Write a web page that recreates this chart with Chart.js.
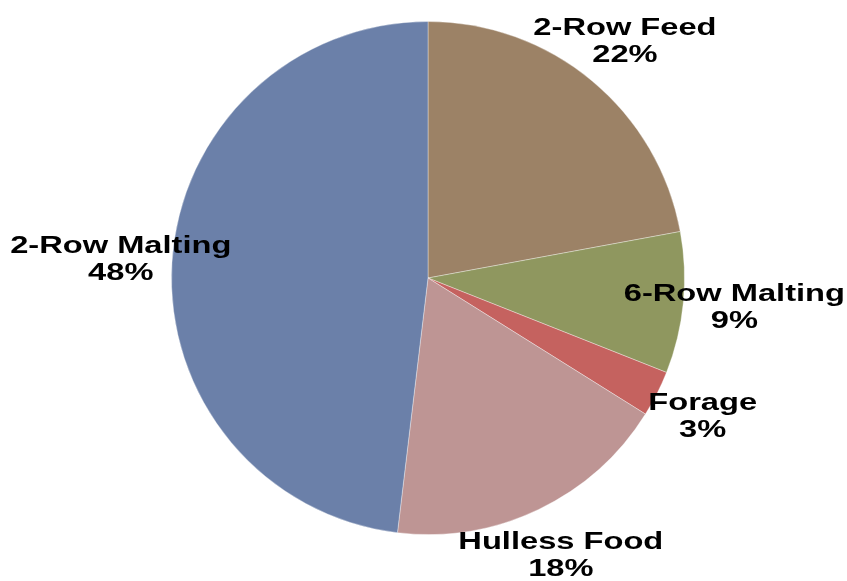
<!DOCTYPE html>
<html>
<head>
<meta charset="utf-8">
<script src="https://cdn.jsdelivr.net/npm/chart.js@4.4.1/dist/chart.umd.min.js"></script>
<style>
html,body{margin:0;padding:0;background:#fff;}
#wrap{width:847px;height:581px;position:relative;}
</style>
</head>
<body>
<div id="wrap"><canvas id="c" width="847" height="581"></canvas></div>
<script>
const categories = ["2-Row Feed", "6-Row Malting", "Forage", "Hulless Food", "2-Row Malting"];
const shares = [22.1, 8.9, 2.9, 18.0, 48.1];
const percentLabels = ["22%", "9%", "3%", "18%", "48%"];
const sliceColors = ["#9c8266", "#8f975f", "#c5625f", "#be9594", "#6b80a9"];

const labelPlugin = {
  id: 'outerLabels',
  afterDatasetsDraw(chart) {
    const ctx = chart.ctx;
    const meta = chart.getDatasetMeta(0);
    ctx.save();
    ctx.fillStyle = '#000';
    ctx.font = 'bold 24px "Liberation Sans", Arial, sans-serif';
    ctx.textAlign = 'center';
    ctx.textBaseline = 'middle';
    const sx = 1.36;
    meta.data.forEach((arc, i) => {
      const mid = (arc.startAngle + arc.endAngle) / 2;
      const r = arc.outerRadius * 1.2;
      const x = arc.x + Math.cos(mid) * r;
      const y = arc.y + Math.sin(mid) * r;
      ctx.save();
      ctx.translate(x, y);
      ctx.scale(sx, 1);
      ctx.fillText(categories[i], 0, -13.5);
      ctx.fillText(percentLabels[i], 0, 13.5);
      ctx.restore();
    });
    ctx.restore();
  }
};

new Chart(document.getElementById('c'), {
  type: 'pie',
  data: {
    labels: categories,
    datasets: [{
      data: shares,
      backgroundColor: sliceColors,
      borderColor: 'rgba(255,255,255,0.35)',
      borderWidth: 1
    }]
  },
  options: {
    responsive: false,
    animation: false,
    layout: { padding: { top: 21, bottom: 46, left: 100, right: 91 } },
    plugins: {
      legend: { display: false },
      tooltip: { enabled: false }
    }
  },
  plugins: [labelPlugin]
});
</script>
</body>
</html>
